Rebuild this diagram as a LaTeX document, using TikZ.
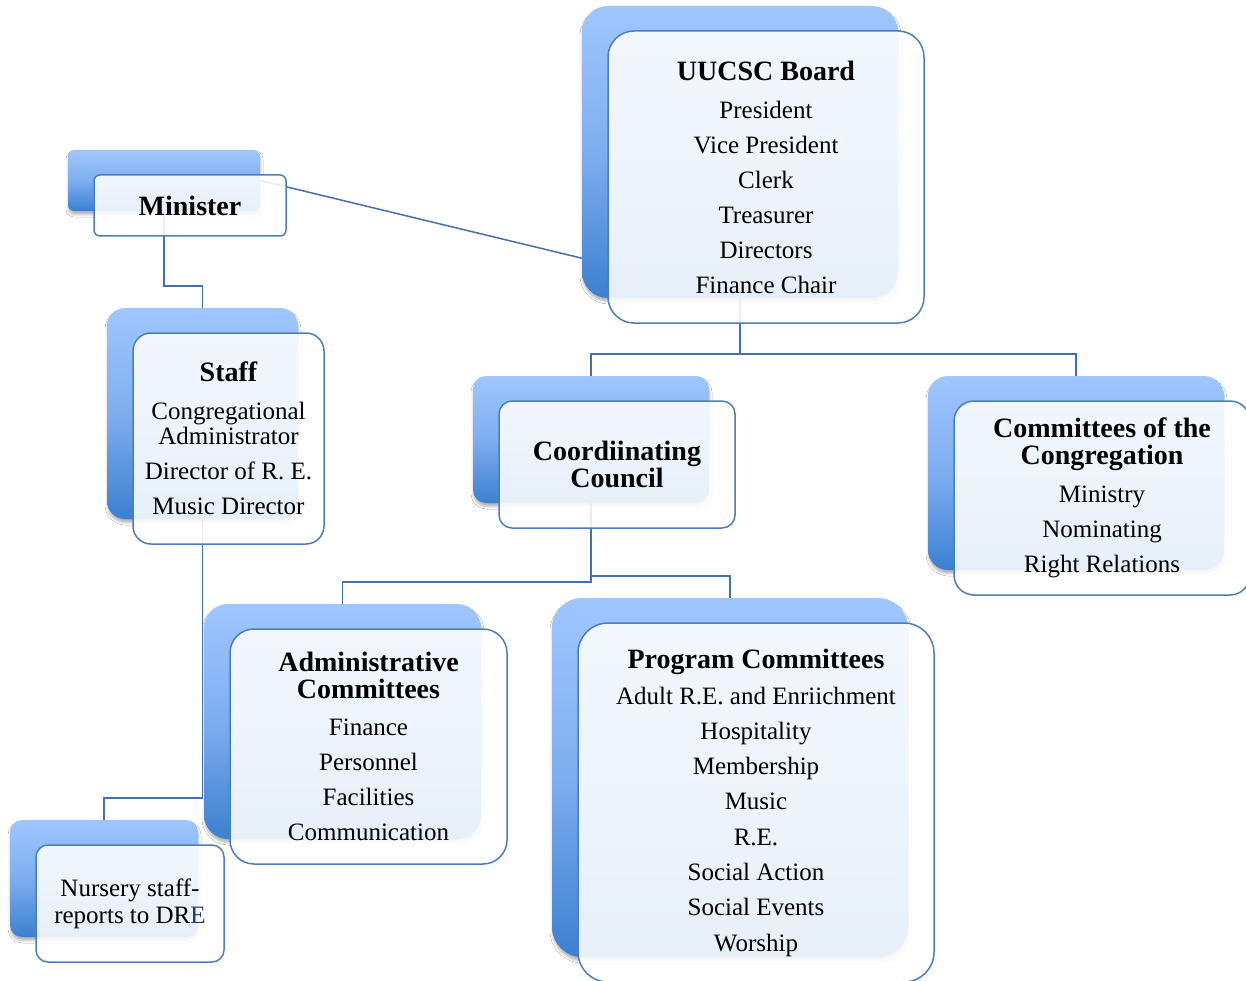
\documentclass[tikz,border=0pt]{standalone}
\usepackage{fontspec}
\setmainfont{Liberation Serif}
\usetikzlibrary{calc, shadows.blur}
\definecolor{backtop}{RGB}{160,198,255}
\definecolor{backmid}{RGB}{126,174,240}
\definecolor{backbot}{RGB}{60,128,208}
\definecolor{framec}{RGB}{79,125,186}
\definecolor{linec}{RGB}{70,112,170}
\definecolor{navy}{RGB}{31,56,100}
\newcommand{\boxtitle}[1]{{\fontsize{28}{27}\selectfont\bfseries #1}}
\tikzset{
  back/.style={rectangle, inner sep=0pt, top color=backtop, bottom color=backbot, middle color=backmid,
    blur shadow={shadow xshift=0.5pt, shadow yshift=-3.5pt, shadow blur radius=2.5pt, shadow opacity=30}},
  front/.style={rectangle, inner sep=0pt, draw=framec, line width=1.5pt, fill=white, fill opacity=0.88,
    text opacity=1, align=center, font=\fontsize{25}{27}\selectfont},
  conn/.style={draw=linec, line width=1.5pt},
}

\begin{document}
\begin{tikzpicture}[x=1pt, y=-1pt]
  \path[use as bounding box, fill=white] (0,0) rectangle (1246,981);

  % back shapes
  \node[back, minimum width=192pt, minimum height=61pt, rounded corners=6pt] (ministerback) at (164,180.5) {};
  \node[back, minimum width=316pt, minimum height=292pt, rounded corners=26pt] (boardback) at (740,152) {};
  \node[back, minimum width=191pt, minimum height=211pt, rounded corners=18pt] (staffback) at (202.5,413.5) {};
  \node[back, minimum width=236pt, minimum height=127pt, rounded corners=13pt] (coordback) at (591,439.5) {};
  \node[back, minimum width=296pt, minimum height=194pt, rounded corners=20pt] (congback) at (1076,473) {};
  \node[back, minimum width=277pt, minimum height=235pt, rounded corners=24pt] (adminback) at (342.5,721.5) {};
  \node[back, minimum width=356pt, minimum height=359pt, rounded corners=30pt] (progback) at (730,777.5) {};
  \node[back, minimum width=188pt, minimum height=117pt, rounded corners=12pt] (nurseryback) at (104,878.5) {};

  % connectors
  \draw[conn] (ministerback.east) -- ($(boardback.south west)+(0,-40)$);
  \draw[conn] (ministerback.south) -- ++(0,75) -| (staffback.north);
  \draw[conn] (staffback.south) -- ++(0,279) -| (nurseryback.north);
  \draw[conn] (boardback.south) -- ++(0,56) -| (coordback.north);
  \draw[conn] (boardback.south) -- ++(0,56) -| (congback.north);
  \draw[conn] (coordback.south) -- ++(0,79) -| (adminback.north);
  \draw[conn] (coordback.south) -- ++(0,73) -| (progback.north);

  % front boxes
  \node[front, minimum width=192pt, minimum height=61pt, rounded corners=6pt] (minister)
    at ($(ministerback)+(26,25)$) {\boxtitle{Minister}};
  \node[front, minimum width=316pt, minimum height=292pt, rounded corners=26pt] (board)
    at ($(boardback)+(26,25)$) {\boxtitle{UUCSC Board}\\[11pt]President\\[8pt]Vice President\\[8pt]Clerk\\[8pt]Treasurer\\[8pt]Directors\\[8pt]Finance Chair};
  \node[front, minimum width=191pt, minimum height=211pt, rounded corners=18pt] (staff)
    at ($(staffback)+(26,25)$) {\boxtitle{Staff}\\[11pt]Congregational\\[-2pt]Administrator\\[8pt]Director of R. E.\\[8pt]Music Director};
  \node[front, minimum width=236pt, minimum height=127pt, rounded corners=13pt] (coord)
    at ($(coordback)+(26,25)$) {\boxtitle{Coordiinating}\\\boxtitle{Council}};
  \node[front, minimum width=296pt, minimum height=194pt, rounded corners=20pt] (cong)
    at ($(congback)+(26,25)$) {\boxtitle{Committees of the}\\\boxtitle{Congregation}\\[11pt]Ministry\\[8pt]Nominating\\[8pt]Right Relations};
  \node[front, minimum width=277pt, minimum height=235pt, rounded corners=24pt] (admin)
    at ($(adminback)+(26,25)$) {\boxtitle{Administrative}\\\boxtitle{Committees}\\[10pt]Finance\\[8pt]Personnel\\[8pt]Facilities\\[8pt]Communication};
  \node[front, minimum width=356pt, minimum height=359pt, rounded corners=30pt] (prog)
    at ($(progback)+(26,25)$) {\boxtitle{Program Committees}\\[9pt]Adult R.E. and Enriichment\\[8.5pt]Hospitality\\[8.2pt]Membership\\[8.2pt]Music\\[8.2pt]R.E.\\[8.2pt]Social Action\\[8.2pt]Social Events\\[8.5pt]Worship};
  \node[front, minimum width=188pt, minimum height=117pt, rounded corners=12pt] (nursery)
    at ($(nurseryback)+(26,25)$) {Nursery staff-\\reports to DR\textcolor{navy}{E}};
\end{tikzpicture}
\end{document}
